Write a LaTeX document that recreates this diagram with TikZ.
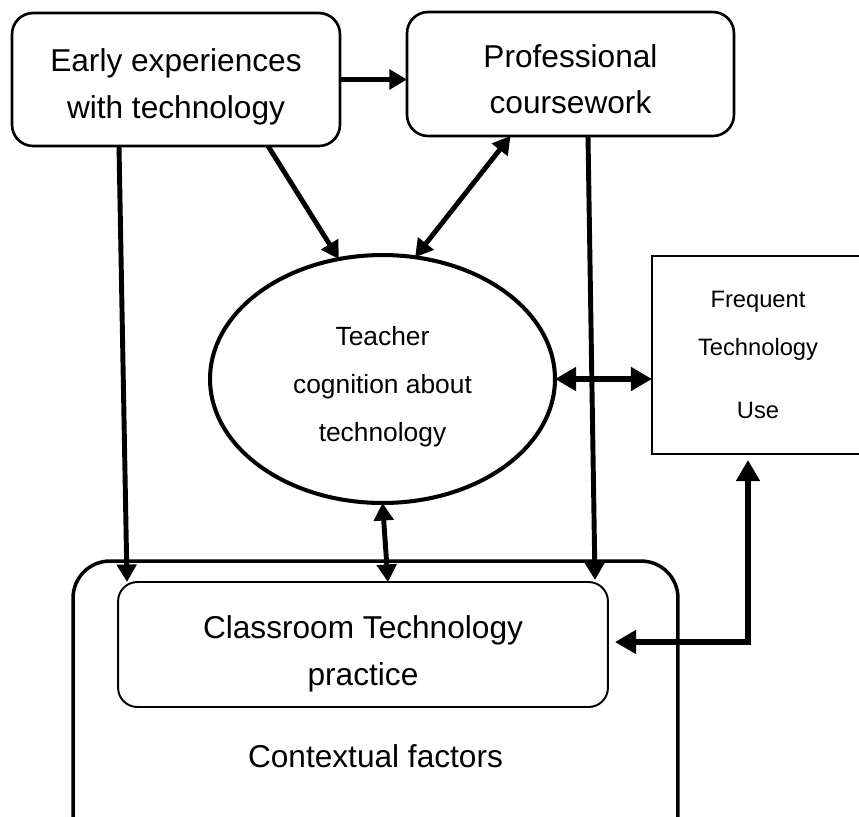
\documentclass[tikz,border=0pt]{standalone}
\usepackage{fontspec}
\setmainfont{Liberation Sans}
\usetikzlibrary{arrows.meta,calc,shapes.geometric}

\begin{document}
\begin{tikzpicture}[x=0.02cm,y=-0.02cm,
    box/.style={draw, rounded corners=12pt, line width=1.5pt, fill=white, inner sep=0pt, outer sep=0pt},
    big/.style={font=\fontsize{18}{26.6}\selectfont, align=center},
    small/.style={font=\fontsize{15}{27.2}\selectfont, align=center},
    arr/.style={line width=2.8pt, -{Triangle[length=10pt,width=11pt]}},
    darr/.style={line width=2.8pt, {Triangle[length=10pt,width=11pt]}-{Triangle[length=10pt,width=11pt]}},
    wide/.style={line width=3.2pt, {Triangle[length=12pt,width=13pt]}-{Triangle[length=12pt,width=13pt]}}]
  \useasboundingbox (0,0) rectangle (859,816);

  % outer frame, runs off the bottom
  \node[box, rounded corners=21pt, line width=2pt, minimum width=12.1cm, minimum height=7.96cm,
        label={[big,yshift=2pt]center:Contextual factors}] (context) at (375.5,760) {};

  \node[box, minimum width=6.56cm, minimum height=2.66cm,
        label={[big,yshift=-4pt]center:Early experiences\\with technology}] (early) at (176,79.5) {};
  \node[box, minimum width=6.54cm, minimum height=2.48cm,
        label={[big,yshift=-3pt]center:Professional\\coursework}] (prof) at (570.5,74) {};
  \node[draw, ellipse, line width=2.3pt, inner sep=0pt, outer sep=0pt, minimum width=6.9cm, minimum height=4.96cm,
        label={[small,yshift=-4.3pt]center:Teacher\\cognition about\\technology}] (cogn) at (382.5,379) {};
  \node[draw, line width=1.1pt, inner sep=0pt, outer sep=0pt, minimum width=4.24cm, minimum height=3.96cm,
        label={[font=\fontsize{13.5}{27.2}\selectfont, align=center]center:Frequent\\Technology\\[8.5pt]Use}] (freq) at (758,355) {};
  \node[box, rounded corners=11pt, line width=1.1pt, minimum width=9.8cm, minimum height=2.5cm,
        label={[big,yshift=-5.4pt]center:Classroom Technology\\practice}] (class) at (363,644.5) {};

  % arrows
  \draw[arr] (early.east) -- (early.east -| prof.west);
  \draw[arr] ($(early.south)+(92,0)$) -- (cogn.110);
  \draw[darr] ($(prof.south)+(-60,0)$) -- (cogn.75);
  \draw[arr] ($(early.south)+(-57,0)$) -- ($(class.north)+(-236,0)$);
  \draw[arr] ($(prof.south)+(17.5,0)$) -- ($(class.north)+(232,-2)$);
  \draw[darr] (cogn.south) -- ($(class.north)+(25,0)$);
  \draw[wide] (cogn.east) -- (cogn.east -| freq.west);
  \draw[wide] ($(freq.south)+(-10,6)$) |- ($(class.east)+(7,-2.5)$);
\end{tikzpicture}
\end{document}
